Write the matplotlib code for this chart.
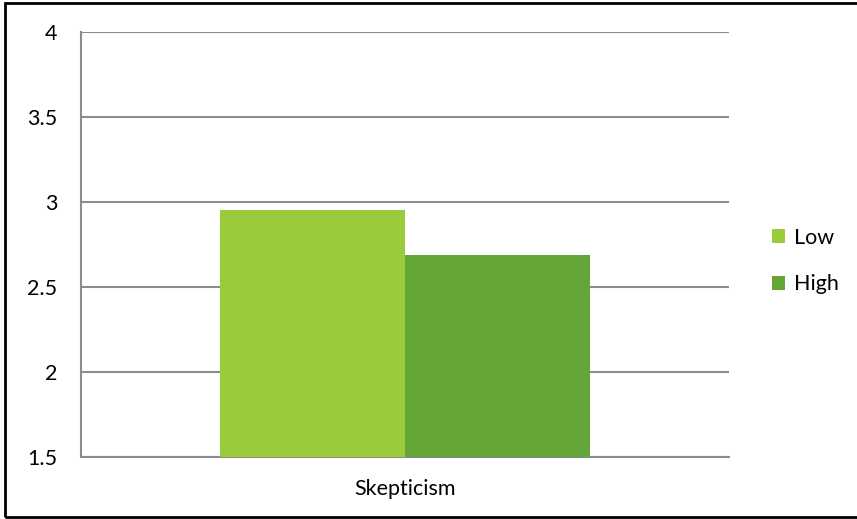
import numpy as np
import matplotlib.pyplot as plt
from matplotlib.patches import Rectangle

# grouped bar values
categories = ['Skepticism']
series_names = ['Low', 'High']
series_values = [[2.95], [2.69]]
colors = ['#9ACB3A', '#63A537']
y_ticks = [1.5, 2, 2.5, 3, 3.5, 4]
y_tick_labels = ['1.5', '2', '2.5', '3', '3.5', '4']

plt.rcParams['font.family'] = ['Lato', 'DejaVu Sans']

W, H = 857, 519
fig = plt.figure(figsize=(W / 100, H / 100), dpi=100)

# plot area
ax = fig.add_axes([81 / W, (H - 457) / H, (729 - 81) / W, (457 - 32) / H])

x = np.arange(len(categories))
bar_w = 185 / 648
for i, (name, vals) in enumerate(zip(series_names, series_values)):
    offset = (i - (len(series_names) - 1) / 2) * bar_w
    ax.bar(x + offset, vals, width=bar_w, color=colors[i], label=name,
           zorder=3)

ax.set_xlim(-0.5, len(categories) - 0.5)
ax.set_ylim(1.5, 4)
ax.set_yticks(y_ticks)
ax.set_yticklabels(y_tick_labels, fontsize=15.5)
ax.set_xticks(x)
ax.set_xticklabels(categories, fontsize=15.5)
ax.tick_params(axis='y', length=0, pad=17)
ax.tick_params(axis='x', length=0, pad=16)

ax.yaxis.grid(True, color='#8c8c8c', linewidth=1.5, zorder=0)
for side in ['top', 'right']:
    ax.spines[side].set_visible(False)
for side in ['left', 'bottom']:
    ax.spines[side].set_color('#8c8c8c')
    ax.spines[side].set_linewidth(1.5)

# legend on the right
handles, labels = ax.get_legend_handles_labels()
fig.legend(handles, labels, loc='center left',
           bbox_to_anchor=(753 / W, (H - 261) / H), frameon=False,
           fontsize=15.5, handlelength=0.6, handleheight=0.6,
           handletextpad=0.4, labelspacing=1.25)

# border round the whole chart
fig.patches.append(Rectangle((5 / W, 2 / H), 1.0, (516 - 2) / H,
                             transform=fig.transFigure, fill=False,
                             edgecolor='black', linewidth=2))

fig.savefig('out.png', dpi=100)
